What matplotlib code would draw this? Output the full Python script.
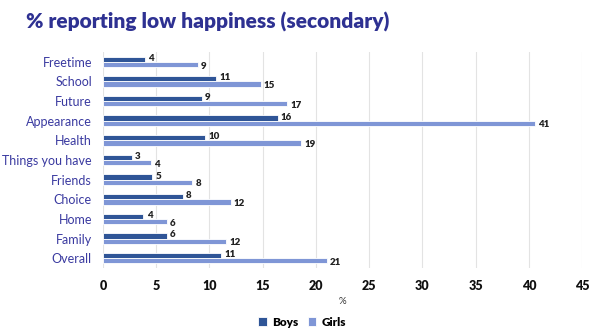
import numpy as np
import matplotlib
matplotlib.use("Agg")
import matplotlib.pyplot as plt

categories = ["Freetime", "School", "Future", "Appearance", "Health", "Things you have",
              "Friends", "Choice", "Home", "Family", "Overall"]
boys = [3.95, 10.6, 9.3, 16.4, 9.6, 2.7, 4.6, 7.5, 3.8, 6.0, 11.1]
girls = [8.9, 14.8, 17.3, 40.6, 18.6, 4.5, 8.4, 12.0, 6.0, 11.6, 21.0]
xticks = list(range(0, 50, 5))

BOYS_C = "#2F5597"
GIRLS_C = "#7F96D6"
NAVY = "#2E3192"
LABEL_C = "#3A3AA0"

plt.rcParams["font.family"] = ["Lato", "DejaVu Sans"]

fig = plt.figure(figsize=(6.01, 3.33), dpi=100)
ax = fig.add_axes([103 / 601, 1 - 268 / 333, (582 - 103) / 601, (268 - 52) / 333])

y = np.arange(len(categories))
h = 0.27
ax.barh(y - h / 2, boys, height=h, color=BOYS_C, edgecolor="white", linewidth=0.6, label="Boys", zorder=3)
ax.barh(y + h / 2, girls, height=h, color=GIRLS_C, edgecolor="white", linewidth=0.6, label="Girls", zorder=3)

for yi, b, g in zip(y, boys, girls):
    ax.text(b + 0.3, yi - h / 2 - 0.05, f"{b:.0f}", ha="left", va="center", fontsize=7,
            fontweight="heavy", color="#222222")
    ax.text(g + 0.3, yi + h / 2 + 0.08, f"{g:.0f}", ha="left", va="center", fontsize=7,
            fontweight="heavy", color="#222222")

ax.set_ylim(len(categories) - 0.5, -0.5)
ax.set_xlim(0, 45)
ax.set_yticks(y)
ax.set_yticklabels(categories, fontsize=9, color=LABEL_C)
ax.set_xticks(xticks)
ax.set_xticklabels([str(t) for t in xticks], fontsize=9, fontweight="heavy", color="#111111")
ax.tick_params(length=0, pad=8)
ax.tick_params(axis="x", pad=9)
ax.grid(axis="x", color="#E3E3E3", linewidth=0.8, zorder=0)
for s in ax.spines.values():
    s.set_visible(False)

ax.set_xlabel("%", fontsize=7, color="#333333", labelpad=3)

fig.text(26 / 601, 1 - 22 / 333, "% reporting low happiness (secondary)", fontsize=15,
         fontweight="heavy", color=NAVY, ha="left", va="center")

fig.legend(loc="center", bbox_to_anchor=(302 / 601, 1 - 322 / 333), ncol=2, frameon=False,
           handlelength=0.75, handleheight=0.75, handletextpad=0.4, columnspacing=0.8,
           prop={"weight": "heavy", "size": 8.5})

fig.savefig("out.png", dpi=100)
